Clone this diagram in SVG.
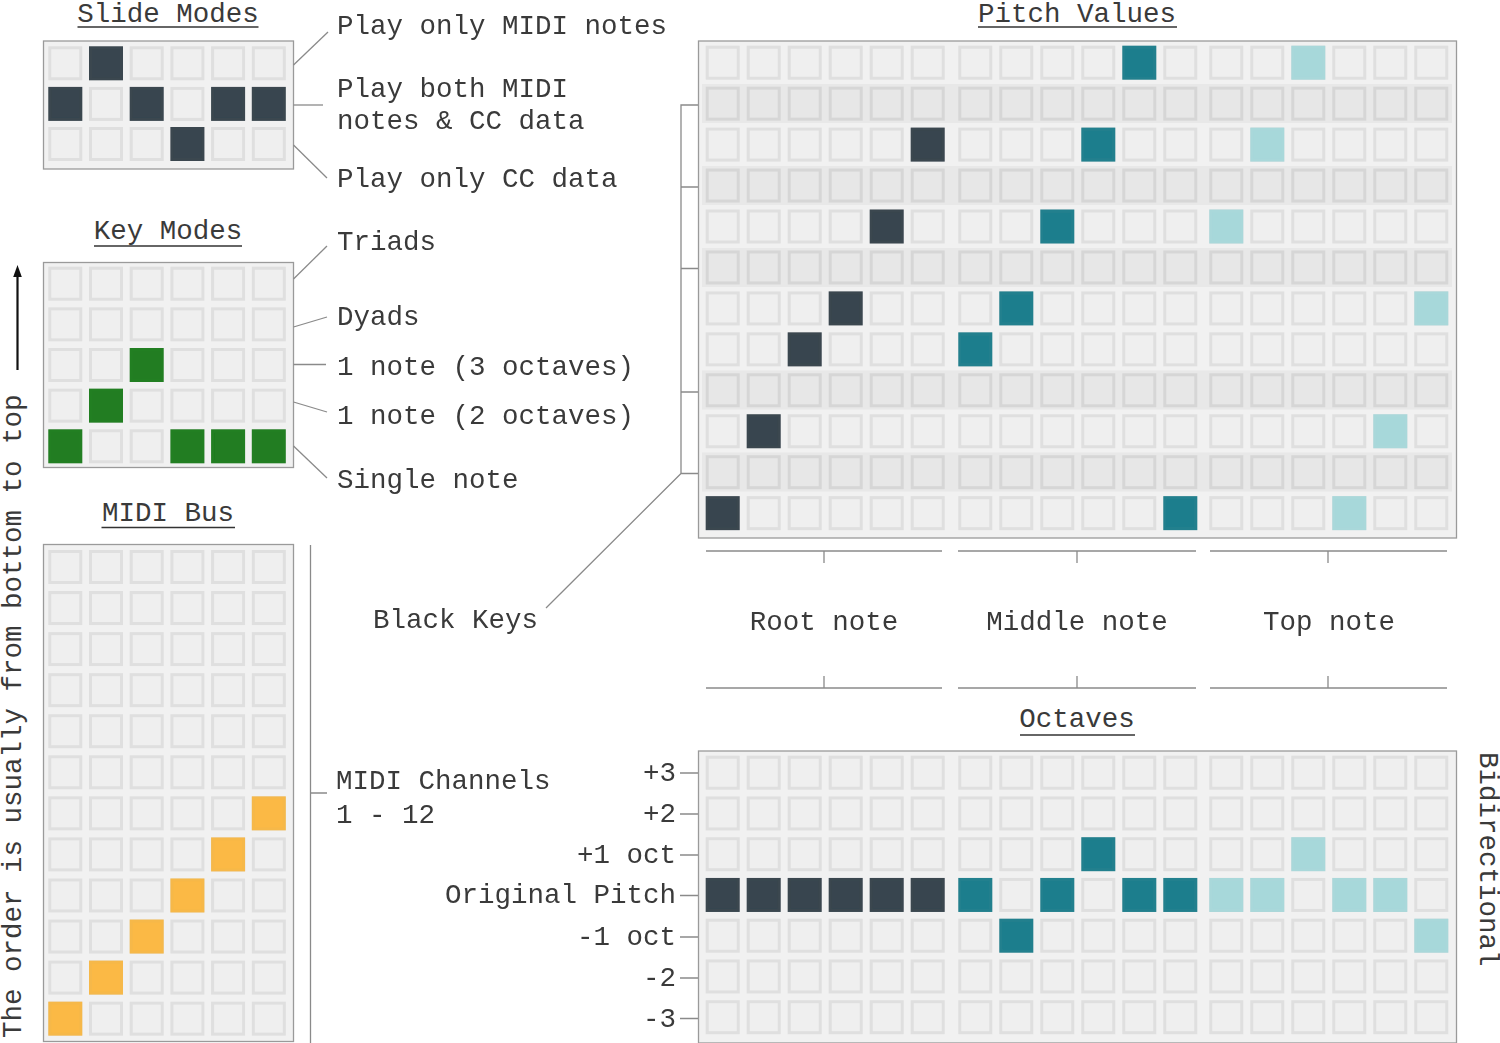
<svg xmlns="http://www.w3.org/2000/svg" xmlns:xlink="http://www.w3.org/1999/xlink" width="1500" height="1043" viewBox="0 0 1500 1043">
<style>
.t{font-family:"Liberation Mono","Courier New",monospace;font-size:27.5px;fill:#3a3a3a}
.m{text-anchor:middle}
.e{text-anchor:end}
.ln{stroke:#8a8a8a;stroke-width:1.3;fill:none}
.ul{stroke:#333;stroke-width:1.6}
.pn{fill:#f1f1f1;stroke:#9a9a9a;stroke-width:1.3}
.band{fill:#e8e8e8}
</style>
<defs>
<filter id="b" x="-5%" y="-5%" width="110%" height="110%"><feGaussianBlur stdDeviation="0.7"/></filter>
<rect id="c0" x="1.5" y="1.5" width="31" height="31" fill="#efefef" stroke="#dfdfdf" stroke-width="3"/>
<rect id="c1" x="1.5" y="1.5" width="31" height="31" fill="#e7e7e7" stroke="#d6d6d6" stroke-width="3"/>
<rect id="cd" x="1.5" y="1.5" width="31" height="31" fill="#37454f" stroke="#3a474f" stroke-width="3"/>
<rect id="ct" x="1.5" y="1.5" width="31" height="31" fill="#1f7e8d" stroke="#23808e" stroke-width="3"/>
<rect id="cl" x="1.5" y="1.5" width="31" height="31" fill="#a7d8da" stroke="#a9d8da" stroke-width="3"/>
<rect id="cg" x="1.5" y="1.5" width="31" height="31" fill="#207d20" stroke="#237f23" stroke-width="3"/>
<rect id="co" x="1.5" y="1.5" width="31" height="31" fill="#fbb944" stroke="#f6b848" stroke-width="3"/>
<g id="rs"><use href="#c0" x="0"/><use href="#c0" x="40.7"/><use href="#c0" x="81.4"/><use href="#c0" x="122.1"/><use href="#c0" x="162.8"/><use href="#c0" x="203.5"/></g>
<g id="rp"><use href="#c0" x="0"/><use href="#c0" x="41"/><use href="#c0" x="82"/><use href="#c0" x="123"/><use href="#c0" x="164"/><use href="#c0" x="205"/></g>
<g id="rh"><use href="#c1" x="0"/><use href="#c1" x="41"/><use href="#c1" x="82"/><use href="#c1" x="123"/><use href="#c1" x="164"/><use href="#c1" x="205"/></g>
<g id="pg">
<use href="#rp" y="45.7"/><use href="#rh" y="86.65"/><use href="#rp" y="127.6"/><use href="#rh" y="168.55"/><use href="#rp" y="209.5"/><use href="#rh" y="250.45"/><use href="#rp" y="291.4"/><use href="#rp" y="332.35"/><use href="#rh" y="373.3"/><use href="#rp" y="414.25"/><use href="#rh" y="455.2"/><use href="#rp" y="496.15"/>
</g>
<g id="og">
<use href="#rp" y="755.7"/><use href="#rp" y="796.45"/><use href="#rp" y="837.2"/><use href="#rp" y="877.95"/><use href="#rp" y="918.7"/><use href="#rp" y="959.45"/><use href="#rp" y="1000.2"/>
</g>
</defs>
<rect width="1500" height="1043" fill="#ffffff"/>

<g id="slide-modes">
<text class="t m" x="168" y="22">Slide Modes</text>
<line class="ul" x1="77.5" y1="27" x2="258.5" y2="27"/>
<rect class="pn" x="43.5" y="41" width="250" height="128"/>
<g filter="url(#b)">
<use href="#rs" x="48.3" y="46.3"/><use href="#rs" x="48.3" y="86.9"/><use href="#rs" x="48.3" y="127"/>
<use href="#cd" x="89" y="46.3"/>
<use href="#cd" x="48.3" y="86.9"/><use href="#cd" x="129.7" y="86.9"/><use href="#cd" x="211.1" y="86.9"/><use href="#cd" x="251.8" y="86.9"/>
<use href="#cd" x="170.4" y="127"/>
</g>
</g>

<g id="key-modes">
<text class="t m" x="168" y="239">Key Modes</text>
<line class="ul" x1="94" y1="246" x2="242" y2="246"/>
<rect class="pn" x="43.5" y="262.5" width="250" height="205"/>
<g filter="url(#b)">
<use href="#rs" x="48.3" y="266.7"/><use href="#rs" x="48.3" y="307.35"/><use href="#rs" x="48.3" y="348"/><use href="#rs" x="48.3" y="388.65"/><use href="#rs" x="48.3" y="429.3"/>
<use href="#cg" x="129.7" y="348"/>
<use href="#cg" x="89" y="388.65"/>
<use href="#cg" x="48.3" y="429.3"/><use href="#cg" x="170.4" y="429.3"/><use href="#cg" x="211.1" y="429.3"/><use href="#cg" x="251.8" y="429.3"/>
</g>
</g>

<g id="midi-bus">
<text class="t m" x="168" y="521">MIDI Bus</text>
<line class="ul" x1="101.5" y1="527.5" x2="235" y2="527.5"/>
<rect class="pn" x="43.5" y="544.5" width="250" height="497"/>
<g filter="url(#b)">
<use href="#rs" x="48.3" y="550"/><use href="#rs" x="48.3" y="591.06"/><use href="#rs" x="48.3" y="632.12"/><use href="#rs" x="48.3" y="673.18"/><use href="#rs" x="48.3" y="714.24"/><use href="#rs" x="48.3" y="755.3"/><use href="#rs" x="48.3" y="796.36"/><use href="#rs" x="48.3" y="837.42"/><use href="#rs" x="48.3" y="878.48"/><use href="#rs" x="48.3" y="919.54"/><use href="#rs" x="48.3" y="960.6"/><use href="#rs" x="48.3" y="1001.66"/>
<use href="#co" x="251.8" y="796.36"/><use href="#co" x="211.1" y="837.42"/><use href="#co" x="170.4" y="878.48"/><use href="#co" x="129.7" y="919.54"/><use href="#co" x="89" y="960.6"/><use href="#co" x="48.3" y="1001.66"/>
</g>
</g>

<g id="pitch-values">
<text class="t m" x="1077" y="22">Pitch Values</text>
<line class="ul" x1="978" y1="27" x2="1177" y2="27"/>
<rect class="pn" x="698.5" y="41" width="758" height="497"/>
<g filter="url(#b)">
<rect class="band" x="702" y="84" width="750" height="39"/>
<rect class="band" x="702" y="166" width="750" height="39"/>
<rect class="band" x="702" y="248" width="750" height="39"/>
<rect class="band" x="702" y="370.5" width="750" height="39"/>
<rect class="band" x="702" y="452.5" width="750" height="39"/>
<use href="#pg" x="705.7"/><use href="#pg" x="958.3"/><use href="#pg" x="1209.3"/>
<use href="#cd" x="705.7" y="496.15"/><use href="#cd" x="746.7" y="414.25"/><use href="#cd" x="787.7" y="332.35"/><use href="#cd" x="828.7" y="291.4"/><use href="#cd" x="869.7" y="209.5"/><use href="#cd" x="910.7" y="127.6"/>
<use href="#ct" x="1122.3" y="45.7"/><use href="#ct" x="1081.3" y="127.6"/><use href="#ct" x="1040.3" y="209.5"/><use href="#ct" x="999.3" y="291.4"/><use href="#ct" x="958.3" y="332.35"/><use href="#ct" x="1163.3" y="496.15"/>
<use href="#cl" x="1291.3" y="45.7"/><use href="#cl" x="1250.3" y="127.6"/><use href="#cl" x="1209.3" y="209.5"/><use href="#cl" x="1414.3" y="291.4"/><use href="#cl" x="1373.3" y="414.25"/><use href="#cl" x="1332.3" y="496.15"/>
</g>
</g>

<g id="octaves">
<text class="t m" x="1077" y="727">Octaves</text>
<line class="ul" x1="1020" y1="735" x2="1135" y2="735"/>
<rect class="pn" x="698.5" y="751" width="758" height="292"/>
<g filter="url(#b)">
<use href="#og" x="705.7"/><use href="#og" x="958.3"/><use href="#og" x="1209.3"/>
<use href="#cd" x="705.7" y="877.95"/><use href="#cd" x="746.7" y="877.95"/><use href="#cd" x="787.7" y="877.95"/><use href="#cd" x="828.7" y="877.95"/><use href="#cd" x="869.7" y="877.95"/><use href="#cd" x="910.7" y="877.95"/>
<use href="#ct" x="958.3" y="877.95"/><use href="#ct" x="1040.3" y="877.95"/><use href="#ct" x="1122.3" y="877.95"/><use href="#ct" x="1163.3" y="877.95"/><use href="#ct" x="1081.3" y="837.2"/><use href="#ct" x="999.3" y="918.7"/>
<use href="#cl" x="1209.3" y="877.95"/><use href="#cl" x="1250.3" y="877.95"/><use href="#cl" x="1332.3" y="877.95"/><use href="#cl" x="1373.3" y="877.95"/><use href="#cl" x="1291.3" y="837.2"/><use href="#cl" x="1414.3" y="918.7"/>
</g>
</g>

<g id="labels">
<text class="t" x="337" y="34">Play only MIDI notes</text>
<text class="t" x="337" y="97">Play both MIDI</text>
<text class="t" x="337" y="129">notes &amp; CC data</text>
<text class="t" x="337" y="187">Play only CC data</text>
<text class="t" x="337" y="250">Triads</text>
<text class="t" x="337" y="325">Dyads</text>
<text class="t" x="337" y="375">1 note (3 octaves)</text>
<text class="t" x="337" y="424">1 note (2 octaves)</text>
<text class="t" x="337" y="488">Single note</text>
<text class="t" x="373" y="628">Black Keys</text>
<text class="t" x="336" y="789">MIDI Channels</text>
<text class="t" x="336" y="823">1 - 12</text>
<text class="t m" x="824" y="630">Root note</text>
<text class="t m" x="1077" y="630">Middle note</text>
<text class="t m" x="1329" y="630">Top note</text>
<text class="t e" x="676" y="781">+3</text>
<text class="t e" x="676" y="822">+2</text>
<text class="t e" x="676" y="863">+1 oct</text>
<text class="t e" x="676" y="903">Original Pitch</text>
<text class="t e" x="676" y="945">-1 oct</text>
<text class="t e" x="676" y="986">-2</text>
<text class="t e" x="676" y="1027">-3</text>
<text class="t" transform="translate(21,1038) rotate(-90)">The order is usually from bottom to top</text>
<text class="t" transform="translate(1480,752) rotate(90)">Bidirectional</text>
</g>

<g id="connectors">
<line class="ln" x1="293.5" y1="65" x2="328" y2="32"/>
<line class="ln" x1="293.5" y1="105" x2="323" y2="105"/>
<line class="ln" x1="293.5" y1="145" x2="327" y2="178"/>
<line class="ln" x1="293.5" y1="279" x2="327" y2="246"/>
<line class="ln" x1="293.5" y1="327" x2="327" y2="317"/>
<line class="ln" x1="293.5" y1="364.5" x2="326" y2="364.5"/>
<line class="ln" x1="293.5" y1="402" x2="327" y2="412"/>
<line class="ln" x1="293.5" y1="446" x2="327" y2="478"/>
<path class="ln" d="M698,105 H681 V473.5 H698 M681,187 H698 M681,268.5 H698 M681,392 H698 M681,473.5 L546,608"/>
<path class="ln" d="M706,551 H942 M824,551 V563 M958,551 H1196 M1077,551 V563 M1210,551 H1447 M1328,551 V563"/>
<path class="ln" d="M706,688 H942 M824,688 V676 M958,688 H1196 M1077,688 V676 M1210,688 H1447 M1328,688 V676"/>
<path class="ln" d="M310.5,545 V1043 M310.5,793 H327"/>
<path class="ln" d="M680,773 H698 M680,814 H698 M680,855 H698 M680,895.5 H698 M680,937 H698 M680,978 H698 M680,1018.5 H698"/>
<line x1="17.5" y1="370" x2="17.5" y2="274" stroke="#111" stroke-width="2.2"/>
<polygon points="17.5,265 13.2,277 21.8,277" fill="#111"/>
</g>
</svg>
